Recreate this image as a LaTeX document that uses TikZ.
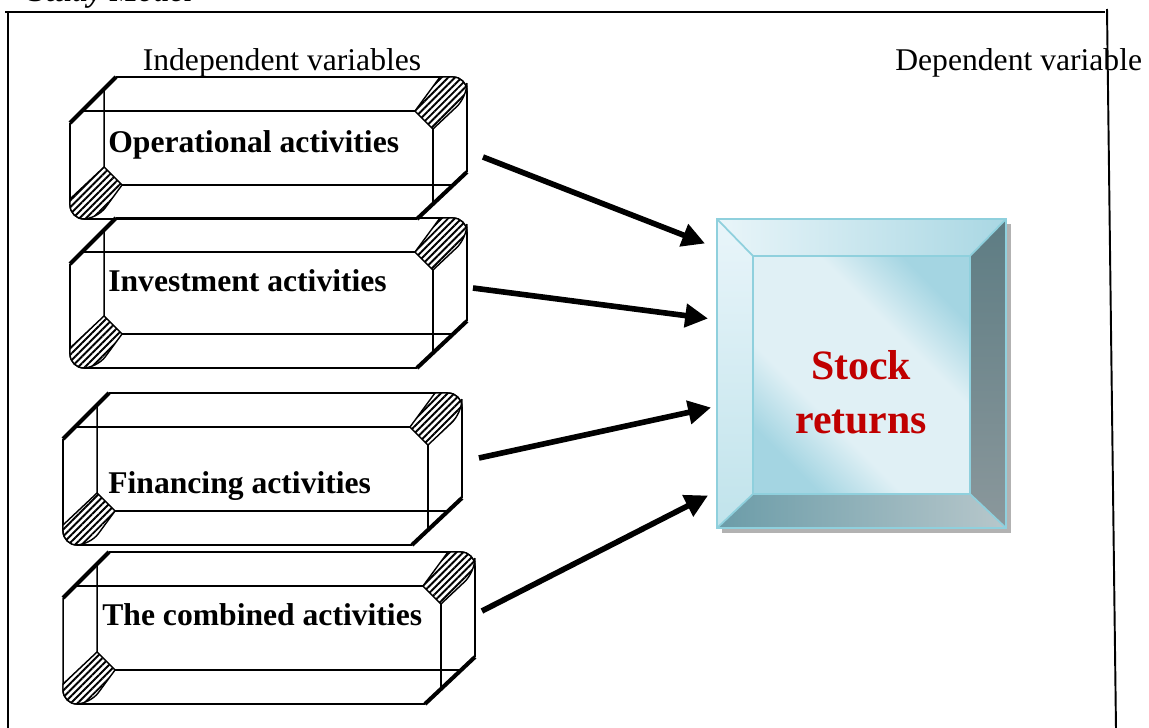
\documentclass[tikz,border=0pt]{standalone}
\usepackage{fontspec}
\setmainfont{Liberation Serif}
\usetikzlibrary{calc,arrows.meta,patterns.meta}

\definecolor{retred}{HTML}{C00000}
\definecolor{edgeteal}{HTML}{8FD0DD}
\definecolor{glasslight}{HTML}{E0F0F5}
\definecolor{glassdark}{HTML}{A4D5E2}
\definecolor{topa}{HTML}{E9F5F9}
\definecolor{topb}{HTML}{A9D7E3}
\definecolor{lefta}{HTML}{E9F5FA}
\definecolor{leftb}{HTML}{C0E3EB}
\definecolor{righta}{HTML}{5D7C83}
\definecolor{rightb}{HTML}{8B989C}
\definecolor{bota}{HTML}{6B9CA8}
\definecolor{botb}{HTML}{B7C7CB}

\pgfdeclarehorizontalshading{glassy}{100bp}{color(0bp)=(glassdark); color(25bp)=(glassdark); color(38bp)=(glasslight); color(62bp)=(glasslight); color(75bp)=(glassdark); color(100bp)=(glassdark)}

% rounded 3d box round a named node
\newcommand\drawcuboid[1]{%
  \draw[boxline,rounded corners=0.28cm] ($(#1.north west)+(46,0)$) -- (#1.north east) -- ($(#1.south east)+(0,-47)$);
  \draw[boxline,rounded corners=0.28cm] ($(#1.south east)+(-50,0)$) -- (#1.south west) -- ($(#1.north west)+(0,46)$);
  \draw[boxline,rounded corners=0.3cm] ($(#1.north west)+(12,34)$) -- ($(#1.north east)+(-34,34)$) -- ($(#1.south east)+(-34,-15)$);
  \draw[boxline,rounded corners=0.3cm] ($(#1.north west)+(34,12)$) -- ($(#1.south west)+(34,-34)$) -- ($(#1.south east)+(-16,-34)$);
  \draw[band] ($(#1.north east)+(-52,34)$) -- ($(#1.north east)+(-27,0)$) [rounded corners=0.28cm] -- (#1.north east) -- ($(#1.north east)+(0,20)$) [sharp corners] -- ($(#1.north east)+(-34,52)$) -- cycle;
  \draw[band] ($(#1.south west)+(34,-52)$) -- ($(#1.south west)+(0,-20)$) [rounded corners=0.28cm] -- (#1.south west) -- ($(#1.south west)+(27,0)$) [sharp corners] -- ($(#1.south west)+(52,-34)$) -- cycle;
  \draw[edgeline] ($(#1.north west)+(0,46)$) -- ($(#1.north west)+(46,0)$);
  \draw[edgeline] ($(#1.south east)+(0,-47)$) -- ($(#1.south east)+(-50,0)$);
}

\begin{document}
\begin{tikzpicture}[x=0.02cm,y=-0.02cm,
    boxline/.style={line width=0.9pt,black},
    edgeline/.style={line width=2.3pt,black},
    band/.style={draw=black,line width=0.8pt,preaction={fill=white},pattern={Lines[angle=45,distance=2.7pt,line width=1.1pt]}},
    cube/.style={inner sep=0pt,outer sep=0pt,minimum width=#1},
    boxtext/.style={font=\fontsize{18}{21}\selectfont\bfseries,inner sep=0pt,anchor=base west},
    heading/.style={font=\fontsize{18}{21}\selectfont,inner sep=0pt,anchor=base},
    frameline/.style={line width=1.1pt,black},
    faceline/.style={draw=edgeteal,line width=1pt},
    flow/.style={line width=3.2pt,-{Triangle[length=13pt,width=13pt]}}]
  \useasboundingbox (0,0) rectangle (1149,727);

  % title and headings
  \node[font=\fontsize{18}{21}\selectfont\bfseries\itshape,inner sep=0pt,anchor=base west] (title) at (28,1) {Study Model};
  \node[heading] (indep) at (282,70) {Independent variables};
  \node[heading,anchor=base west] (dep) at (895,70) {Dependent variable};

  % independent boxes
  \node[cube=7.94cm,minimum height=2.84cm] (op) at (268.5,148) {};
  \node[cube=7.94cm,minimum height=3.0cm] (inv) at (268.5,293) {};
  \node[cube=7.98cm,minimum height=3.04cm] (fin) at (262.5,469) {};
  \node[cube=8.24cm,minimum height=3.04cm] (comb) at (269,628) {};
  \drawcuboid{op}
  \drawcuboid{inv}
  \drawcuboid{fin}
  \drawcuboid{comb}
  \node[boxtext] (optxt) at (108,152) {Operational activities};
  \node[boxtext] (invtxt) at (108,291) {Investment activities};
  \node[boxtext] (fintxt) at (108,493) {Financing activities};
  \node[boxtext] (combtxt) at (102,625) {The combined activities};

  % dependent box
  \node[inner sep=0pt,outer sep=0pt,minimum width=5.78cm,minimum height=6.18cm] (stock) at (861.5,373.5) {};
  \fill[black!30] ($(stock.north west)+(5,5)$) rectangle ($(stock.south east)+(5,5)$);
  \shade[shading=glassy,shading angle=45] ($(stock.north west)+(36,37)$) rectangle ($(stock.south east)+(-36,-34)$);
  \shade[left color=topa,right color=topb] (stock.north west) -- (stock.north east) -- ($(stock.north east)+(-36,37)$) -- ($(stock.north west)+(36,37)$) -- cycle;
  \shade[top color=lefta,bottom color=leftb] (stock.north west) -- ($(stock.north west)+(36,37)$) -- ($(stock.south west)+(36,-34)$) -- (stock.south west) -- cycle;
  \shade[top color=righta,bottom color=rightb] (stock.north east) -- (stock.south east) -- ($(stock.south east)+(-36,-34)$) -- ($(stock.north east)+(-36,37)$) -- cycle;
  \shade[left color=bota,right color=botb] (stock.south west) -- (stock.south east) -- ($(stock.south east)+(-36,-34)$) -- ($(stock.south west)+(36,-34)$) -- cycle;
  \draw[faceline] (stock.north west) rectangle (stock.south east);
  \draw[faceline] ($(stock.north west)+(36,37)$) rectangle ($(stock.south east)+(-36,-34)$);
  \draw[faceline] (stock.north west) -- ($(stock.north west)+(36,37)$);
  \draw[faceline] (stock.north east) -- ($(stock.north east)+(-36,37)$);
  \draw[faceline] (stock.south west) -- ($(stock.south west)+(36,-34)$);
  \draw[faceline] (stock.south east) -- ($(stock.south east)+(-36,-34)$);
  \node[font=\fontsize{23.8}{30.6}\selectfont\bfseries,text=retred,align=center] (stocktxt) at (861,392) {Stock\\returns};

  % arrows
  \draw[flow] ($(op.east)+(16,9)$) -- ($(stock.west)+(-12,-130)$);
  \draw[flow] ($(inv.east)+(6,-5)$) -- ($(stock.west)+(-9,-55)$);
  \draw[flow] ($(fin.east)+(17,-11)$) -- ($(stock.west)+(-6,34)$);
  \draw[flow] ($(comb.east)+(7,-17)$) -- ($(stock.west)+(-9,122)$);

  % frame
  \draw[frameline] (5,12) -- (1105,12);
  \draw[frameline] (8,12) -- (8,730);
  \draw[frameline] (1107,9) -- (1116,730);
\end{tikzpicture}
\end{document}
